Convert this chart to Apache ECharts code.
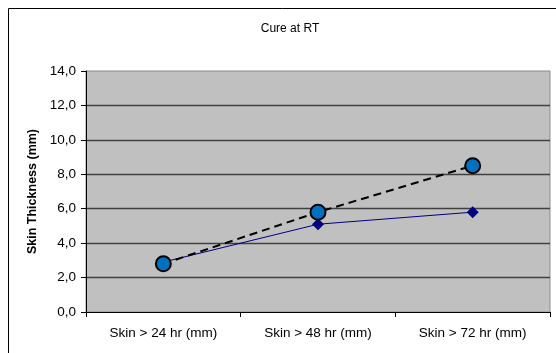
<!DOCTYPE html>
<html>
<head>
<meta charset="utf-8">
<script src="https://cdn.jsdelivr.net/npm/echarts@6/dist/echarts.min.js"></script>
<style>
html,body{margin:0;padding:0;background:#fff;}
#c{width:556px;height:353px;}
</style>
</head>
<body>
<div id="c"></div>
<script>
var categories = ['Skin > 24 hr (mm)', 'Skin > 48 hr (mm)', 'Skin > 72 hr (mm)'];
var diamondSeries = [2.9, 5.1, 5.8];
var circleSeries = [2.8, 5.8, 8.5];
var yTicks = { min: 0, max: 14, interval: 2 };
var titleText = 'Cure at RT';
var yName = 'Skin Thickness (mm)';

var font = '"Liberation Sans", Arial, sans-serif';
var chart = echarts.init(document.getElementById('c'), null, { renderer: 'canvas' });
chart.setOption({
  animation: false,
  backgroundColor: '#ffffff',
  title: {
    text: titleText,
    left: 285, top: 18, textAlign: 'center',
    textStyle: { fontFamily: font, fontSize: 12, fontWeight: 'normal', color: '#000' }
  },
  graphic: [{
    type: 'rect', silent: true, z: 100,
    shape: { x: 8.5, y: 8.5, width: 600, height: 400 },
    style: { fill: 'none', stroke: '#000', lineWidth: 1 }
  }],
  grid: {
    left: 86, top: 71, width: 464, height: 241,
    show: true, backgroundColor: '#c0c0c0', borderColor: '#8c8c8c', borderWidth: 1
  },
  xAxis: {
    type: 'category', data: categories, boundaryGap: true,
    axisLine: { lineStyle: { color: '#000', width: 1 } },
    axisTick: { show: true, length: 5, lineStyle: { color: '#000' } },
    axisLabel: { margin: 14, fontFamily: font, fontSize: 13.5, color: '#000' },
    splitLine: { show: false }
  },
  yAxis: {
    type: 'value', min: yTicks.min, max: yTicks.max, interval: yTicks.interval,
    name: yName, nameLocation: 'middle', nameGap: 46,
    nameTextStyle: { fontFamily: font, fontSize: 12.5, fontWeight: 'bold', color: '#000' },
    axisLine: { show: true, lineStyle: { color: '#000', width: 1 } },
    axisTick: { show: true, length: 5, lineStyle: { color: '#000' } },
    axisLabel: {
      margin: 10, fontFamily: font, fontSize: 13.5, color: '#000',
      formatter: function (v) { return v.toFixed(1).replace('.', ','); }
    },
    splitLine: { show: true, showMinLine: false, showMaxLine: false, lineStyle: { color: '#404040', width: 1.3 } }
  },
  series: [
    {
      type: 'line', data: diamondSeries,
      symbol: 'diamond', symbolSize: 12,
      lineStyle: { color: '#000080', width: 1 },
      itemStyle: { color: '#000080', borderColor: '#000080', borderWidth: 0 }
    },
    {
      type: 'line', data: circleSeries,
      symbol: 'circle', symbolSize: 15,
      lineStyle: { color: '#000', width: 2, type: [8, 5] },
      itemStyle: { color: '#0070c0', borderColor: '#000', borderWidth: 2 }
    }
  ]
});
</script>
</body>
</html>
